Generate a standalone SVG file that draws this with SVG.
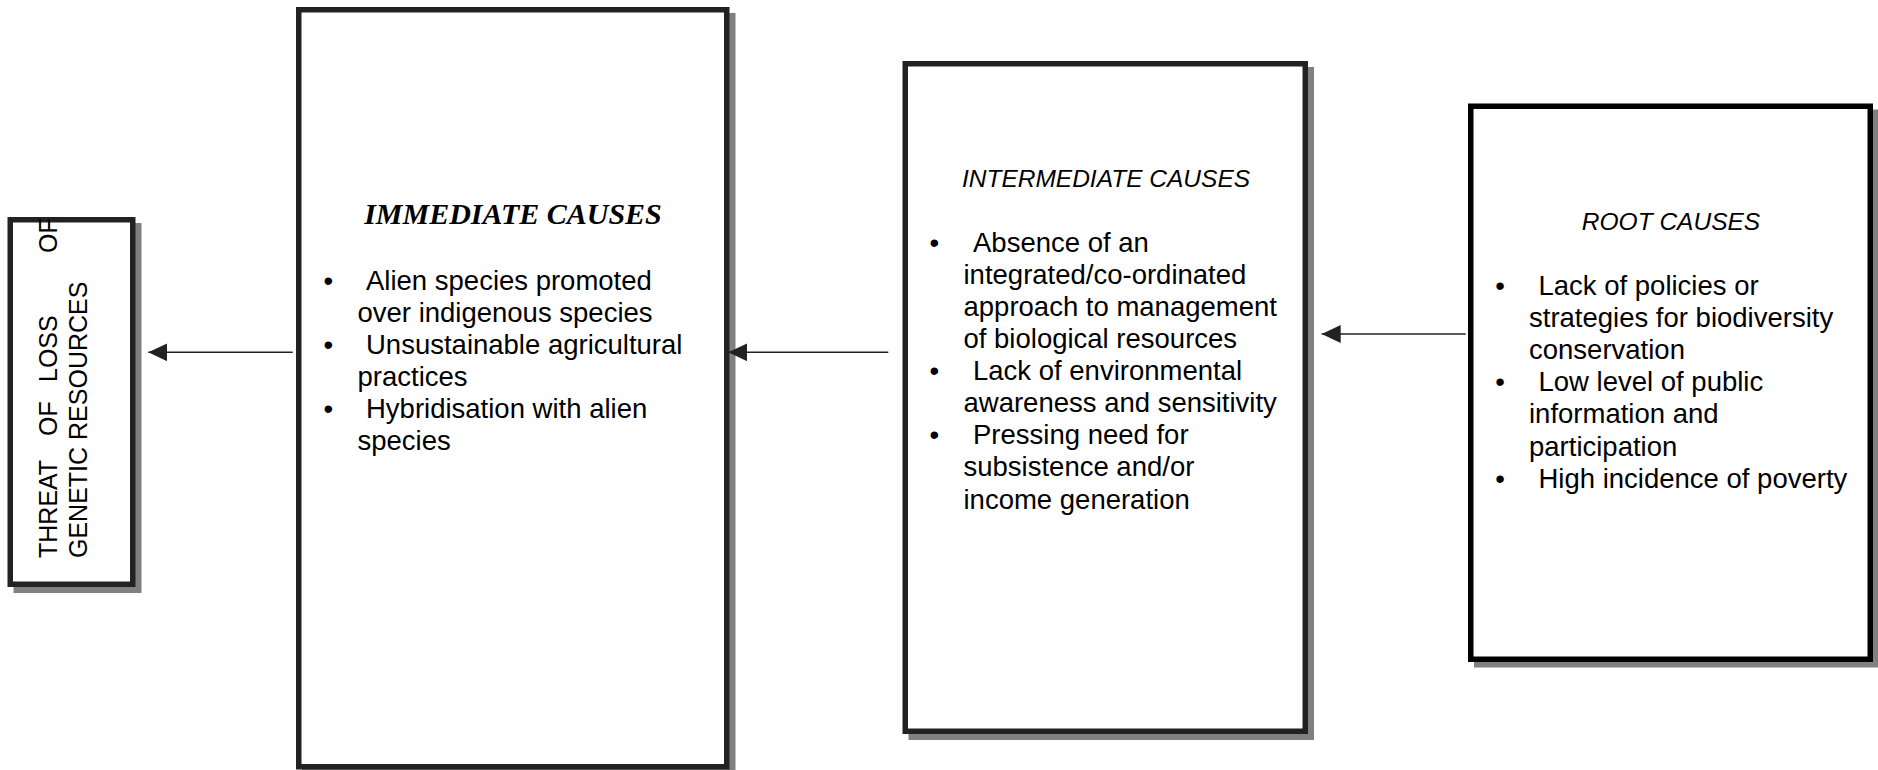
<svg xmlns="http://www.w3.org/2000/svg" width="1878" height="770" viewBox="0 0 1878 770">
<style>
.shadow{fill:#808080;stroke:none}
.box{fill:#ffffff;stroke:#222222;stroke-width:5.5}
.boxb{fill:#ffffff;stroke:#000000;stroke-width:5.5}
.body{font-family:"Liberation Sans",Arial,sans-serif;font-size:27.5px;fill:#000}
.bul{font-family:"Liberation Sans",Arial,sans-serif;font-size:27.5px;fill:#000;text-anchor:middle}
.ttl{font-family:"Liberation Sans",Arial,sans-serif;font-size:24.5px;font-style:italic;fill:#000;text-anchor:middle}
.ttls{font-family:"Liberation Serif","Times New Roman",serif;font-size:30px;font-style:italic;font-weight:bold;fill:#000;text-anchor:middle}
.rot{font-family:"Liberation Sans",Arial,sans-serif;font-size:25px;fill:#000}
.conn{stroke:#222;stroke-width:1.4;fill:none}
</style>
<defs>
<marker id="ah" markerUnits="userSpaceOnUse" markerWidth="20" markerHeight="18" refX="19" refY="9" orient="auto">
<path d="M0,0 L19,9 L0,18 Z" fill="#222"/>
</marker>
</defs>
<rect width="1878" height="770" fill="#fff"/>

<g id="threat">
<rect class="shadow" x="13.5" y="223" width="128" height="370"/>
<rect class="box" x="10.25" y="219.75" width="122.5" height="364.5"/>
<g transform="translate(57,558) rotate(-90)">
<text class="rot" x="0" y="0">THREAT</text>
<text class="rot" x="122" y="0">OF</text>
<text class="rot" x="176" y="0">LOSS</text>
<text class="rot" x="305" y="0">OF</text>
</g>
<text class="rot" transform="translate(86.5,558) rotate(-90)" x="0" y="0">GENETIC RESOURCES</text>
</g>

<g id="immediate">
<rect class="shadow" x="302" y="13" width="433.5" height="770"/>
<rect class="box" x="298.75" y="9.75" width="428" height="757"/>
<text class="ttls" x="513" y="224">IMMEDIATE CAUSES</text>
<text class="bul" x="328.3" y="289.5">•</text>
<text class="body" x="366" y="289.5">Alien species promoted</text>
<text class="body" x="357.5" y="321.6">over indigenous species</text>
<text class="bul" x="328.3" y="353.7">•</text>
<text class="body" x="366" y="353.7">Unsustainable agricultural</text>
<text class="body" x="357.5" y="385.8">practices</text>
<text class="bul" x="328.3" y="417.9">•</text>
<text class="body" x="366" y="417.9">Hybridisation with alien</text>
<text class="body" x="357.5" y="450">species</text>
</g>

<g id="intermediate">
<rect class="shadow" x="908.5" y="67" width="405.5" height="673"/>
<rect class="box" x="905.25" y="63.75" width="400" height="667.5"/>
<text class="ttl" x="1106" y="186.7">INTERMEDIATE CAUSES</text>
<text class="bul" x="934.3" y="251.7">•</text>
<text class="body" x="973" y="251.7">Absence of an</text>
<text class="body" x="963.5" y="283.8">integrated/co-ordinated</text>
<text class="body" x="963.5" y="315.9">approach to management</text>
<text class="body" x="963.5" y="348">of biological resources</text>
<text class="bul" x="934.3" y="380.1">•</text>
<text class="body" x="973" y="380.1">Lack of environmental</text>
<text class="body" x="963.5" y="412.2">awareness and sensitivity</text>
<text class="bul" x="934.3" y="444.3">•</text>
<text class="body" x="973" y="444.3">Pressing need for</text>
<text class="body" x="963.5" y="476.4">subsistence and/or</text>
<text class="body" x="963.5" y="508.5">income generation</text>
</g>

<g id="root">
<rect class="shadow" x="1474" y="109.5" width="404" height="558"/>
<rect class="boxb" x="1470.75" y="106.25" width="399.5" height="553"/>
<text class="ttl" x="1671" y="229.5">ROOT CAUSES</text>
<text class="bul" x="1500" y="295">•</text>
<text class="body" x="1538.5" y="295">Lack of policies or</text>
<text class="body" x="1529" y="327.1">strategies for biodiversity</text>
<text class="body" x="1529" y="359.2">conservation</text>
<text class="bul" x="1500" y="391.3">•</text>
<text class="body" x="1538.5" y="391.3">Low level of public</text>
<text class="body" x="1529" y="423.4">information and</text>
<text class="body" x="1529" y="455.5">participation</text>
<text class="bul" x="1500" y="487.6">•</text>
<text class="body" x="1538.5" y="487.6">High incidence of poverty</text>
</g>

<g id="connectors">
<line class="conn" x1="292.7" y1="352.3" x2="148.3" y2="352.3" marker-end="url(#ah)"/>
<line class="conn" x1="888.3" y1="352.3" x2="728.3" y2="352.3" marker-end="url(#ah)"/>
<line class="conn" x1="1465.7" y1="334" x2="1321.7" y2="334" marker-end="url(#ah)"/>
</g>
</svg>
